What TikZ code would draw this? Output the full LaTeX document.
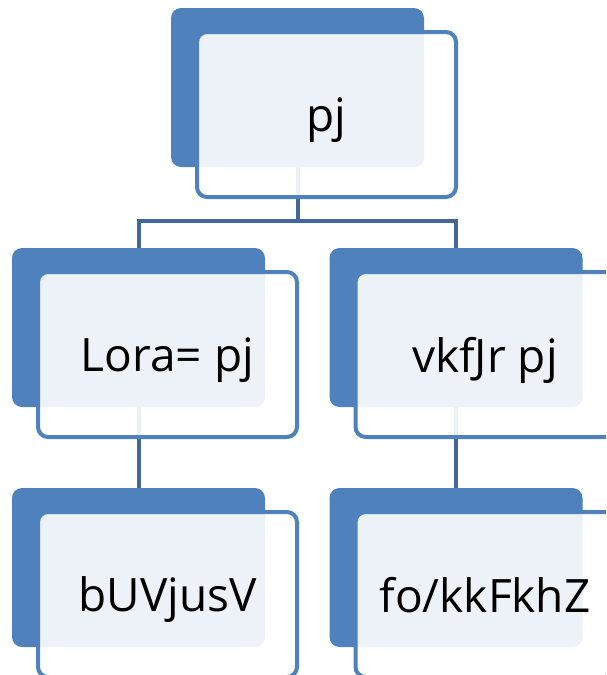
\documentclass[tikz,border=0pt]{standalone}
\usepackage{fontspec}
\setmainfont{Open Sans}
\usepackage{tikz}
\usetikzlibrary{positioning}
\definecolor{boxblue}{RGB}{79,129,189}
\definecolor{lineblue}{RGB}{64,104,152}
\tikzstyle{back} = [rectangle, rounded corners=10pt, fill=boxblue,
minimum width=253pt, minimum height=159pt, inner sep=0pt]
\tikzstyle{front} = [rectangle, rounded corners=10pt, draw=boxblue, line width=4pt,
fill=white, fill opacity=0.9, text opacity=1, minimum width=259pt,
minimum height=165pt, inner sep=0pt, text depth=0pt, font=\fontsize{46}{50}\selectfont]
\tikzstyle{line} = [draw=lineblue, line width=4pt]

\begin{document}
\begin{tikzpicture}[x=1pt, y=1pt]
	\useasboundingbox (0,0) rectangle (606,-675);
	\clip (0,0) rectangle (606,-675);
	% Place back boxes
	\node [back] (rootb) at (297.5,-87.5) {};
	\node [back, below of=rootb, node distance=240pt, xshift=-159pt] (lorab) {};
	\node [back, below of=rootb, node distance=240pt, xshift=158.5pt] (vkfb) {};
	\node [back, below of=lorab, node distance=240pt] (bUVb) {};
	\node [back, below of=vkfb, node distance=240pt] (fob) {};
	
	\path [line] (rootb.south) -- ++(0,-54) -| (lorab.north);
	\path [line] (rootb.south) -- ++(0,-54) -| (vkfb.north);
	\path [line] (lorab.south) -- (bUVb.north);
	\path [line] (vkfb.south) -- (fob.north);
	
	% Place front boxes
	\node [front, xshift=29pt, yshift=-27pt] (rootf) at (rootb) {pj};
	\node [front, xshift=29pt, yshift=-27pt] (loraf) at (lorab) {Lora= pj};
	\node [front, xshift=29pt, yshift=-27pt] (vkff) at (vkfb) {vkfJr pj};
	\node [front, xshift=29pt, yshift=-27pt] (bUVf) at (bUVb) {bUVjusV};
	\node [front, xshift=29pt, yshift=-27pt] (fof) at (fob) {fo/kkFkhZ};
	
\end{tikzpicture}
\end{document}
